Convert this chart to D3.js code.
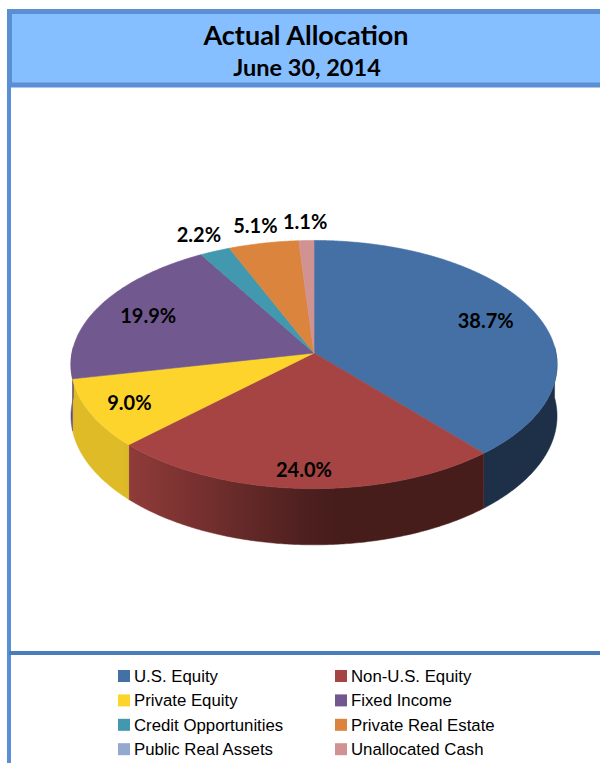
<!DOCTYPE html>
<html lang="en">
<head>
<meta charset="UTF-8">
<title>Actual Allocation</title>
<script src="https://d3js.org/d3.v7.min.js"></script>
<style>
    body { margin: 0; background: #fff; }
    svg { display: block; }
    .slice-label { font-family: Lato, "Open Sans", sans-serif; font-weight: bold; font-size: 20px; fill: #000; }
    .legend text { font-family: "Liberation Sans", Arial, sans-serif; font-size: 16.8px; fill: #000; }
</style>
</head>
<body>
<svg id="chart" width="600" height="763"></svg>
<script>
// données
const categories = ["U.S. Equity", "Non-U.S. Equity", "Private Equity", "Fixed Income",
    "Credit Opportunities", "Private Real Estate", "Public Real Assets", "Unallocated Cash"];
const values = [38.7, 24.0, 9.0, 19.9, 2.2, 5.1, 0.0, 1.1];
const colors = ["#4470a5", "#a54442", "#fcd42c", "#71588f", "#4198af", "#db843d", "#93a9cf", "#d19392"];
const titleText = "Actual Allocation";
const subtitleText = "June 30, 2014";

const data = categories.map((c, i) => ({ name: c, value: values[i], color: colors[i] }));

const svg = d3.select("#chart");
const defs = svg.append("defs");

// cadre
svg.append("rect")
    .attr("x", 9.5).attr("y", 11.5)
    .attr("width", 600).attr("height", 73.5)
    .attr("fill", "#86bfff")
    .attr("stroke", "#5b8fd3")
    .attr("stroke-width", 5);

svg.append("line")
    .attr("x1", 9).attr("x2", 9)
    .attr("y1", 86).attr("y2", 763)
    .attr("stroke", "#5b8fd3")
    .attr("stroke-width", 4);

svg.append("line")
    .attr("x1", 9).attr("x2", 600)
    .attr("y1", 653).attr("y2", 653)
    .attr("stroke", "#4a7ebb")
    .attr("stroke-width", 4);

svg.append("text")
    .attr("x", 306).attr("y", 45)
    .attr("text-anchor", "middle")
    .style("font-family", "Lato, sans-serif")
    .style("font-weight", "bold")
    .style("font-size", "27px")
    .text(titleText);

svg.append("text")
    .attr("x", 307).attr("y", 76)
    .attr("text-anchor", "middle")
    .style("font-family", "Lato, sans-serif")
    .style("font-weight", "bold")
    .style("font-size", "23.5px")
    .text(subtitleText);

// camembert 3D (projection en perspective)
const cx = 314, cy = 353, R = 242, Ry = 123, persp = 0.093, depth = 51;

function project(a, r, down) {
    const x = r * Math.sin(a), z = -r * Math.cos(a);
    const w = 1 - persp * z;
    return [cx + R * x / w, cy + (Ry * z + (down || 0)) / w];
}

const arcs = d3.pie()
    .sort(null)
    .value(d => d.value)
    .startAngle(0)
    .endAngle(2 * Math.PI)(data)
    .filter(d => d.value > 0);

const step = Math.PI / 360;
function angleRange(a0, a1) {
    const n = Math.max(2, Math.ceil((a1 - a0) / step));
    return d3.range(n + 1).map(i => a0 + (a1 - a0) * i / n);
}

const line = d3.line();
const shade = s => Math.max(0.43, Math.min(0.88, 0.45 - 0.55 * s));

// faces latérales (seulement la moitié avant)
const sides = arcs.map((d, i) => {
    const a0 = Math.max(d.startAngle, Math.PI / 2 - 0.05);
    const a1 = Math.min(d.endAngle, 3 * Math.PI / 2 + 0.05);
    if (a1 <= a0) return null;
    const angles = angleRange(a0, a1);
    const top = angles.map(a => project(a, 1));
    const bottom = angles.slice().reverse().map(a => project(a, 1, depth));

    const grad = defs.append("linearGradient")
        .attr("id", "side" + i)
        .attr("gradientUnits", "userSpaceOnUse")
        .attr("x1", cx - R).attr("x2", cx + R)
        .attr("y1", 0).attr("y2", 0);
    d3.range(21).forEach(k => {
        const s = -1 + k / 10;
        grad.append("stop")
            .attr("offset", k / 20)
            .attr("stop-color", d3.interpolateRgb("#000", d.data.color)(shade(s)));
    });
    return { id: i, path: line(top.concat(bottom)) + "Z" };
}).filter(s => s);

svg.append("g").selectAll("path")
    .data(sides)
    .join("path")
    .attr("d", s => s.path)
    .attr("fill", s => `url(#side${s.id})`)
    .attr("stroke", s => `url(#side${s.id})`)
    .attr("stroke-width", 0.5);

// faces supérieures
svg.append("g").selectAll("path")
    .data(arcs)
    .join("path")
    .attr("d", d => line([[cx, cy]].concat(angleRange(d.startAngle, d.endAngle).map(a => project(a, 1)))) + "Z")
    .attr("fill", d => d.data.color)
    .attr("stroke", d => d.data.color)
    .attr("stroke-width", 0.6);

// étiquettes
svg.append("g").selectAll("text")
    .data(arcs)
    .join("text")
    .attr("class", "slice-label")
    .attr("transform", d => {
        const mid = (d.startAngle + d.endAngle) / 2;
        const r = d.value < 6 ? 1.18 : 0.8 + 0.07 * -Math.cos(mid);
        const p = project(mid, r);
        return `translate(${p[0]},${p[1]})`;
    })
    .attr("text-anchor", "middle")
    .attr("dy", "0.36em")
    .text(d => d3.format(".1f")(d.value) + "%");

// légende
const legend = svg.append("g").attr("class", "legend");
const colX = [118, 335], rowY = 670, rowStep = 24.4;

const items = legend.selectAll("g")
    .data(data)
    .join("g")
    .attr("transform", (d, i) => `translate(${colX[i % 2]},${rowY + Math.floor(i / 2) * rowStep})`);

items.append("rect")
    .attr("width", 12).attr("height", 12)
    .attr("fill", d => d.color);

items.append("text")
    .attr("x", 16).attr("y", 12)
    .text(d => d.name);
</script>
</body>
</html>
